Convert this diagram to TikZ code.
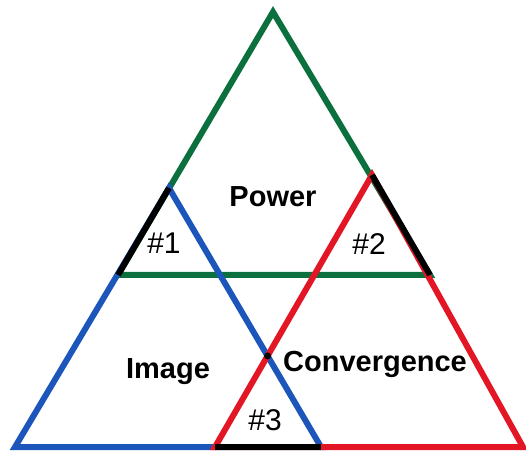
\documentclass[tikz,border=0pt]{standalone}
\usepackage{fontspec}
\setmainfont{Liberation Sans}
\usepackage{xcolor}
\definecolor{trigreen}{RGB}{12,112,62}
\definecolor{triblue}{RGB}{28,86,186}
\definecolor{trired}{RGB}{226,22,36}

\begin{document}
\begin{tikzpicture}[x=1pt, y=1pt,
  side/.style={line width=6pt, line join=miter},
  lbl/.style={font=\fontsize{29}{31}\selectfont\bfseries},
  num/.style={font=\fontsize{30}{32}\selectfont}]
  \useasboundingbox (0,0) rectangle (526,452);
  % Corners
  \coordinate (top) at (273,440);
  \coordinate (gl) at (118,177);
  \coordinate (gr) at (430,177);
  \coordinate (btop) at (169,264);
  \coordinate (bl) at (15,5);
  \coordinate (br) at (321,5);
  \coordinate (rtop) at (372,277);
  \coordinate (rl) at (215,5);
  \coordinate (rr) at (523,5);
  % Triangles
  \draw[side, trigreen] (top) -- (gr) -- (gl) -- cycle;
  \draw[side, triblue] (btop) -- (br) -- (bl) -- cycle;
  \draw[side, trired] (rtop) -- (rr) -- (rl) -- cycle;
  % Shared edges
  \draw[side, black] (btop) -- (gl);
  \draw[side, black] (rtop) -- (gr);
  \draw[side, black] (rl) -- (br);
  \fill[black] (intersection of btop--br and rtop--rl) circle (3.5pt);
  % Labels
  \node[lbl] (power) at (273,255) {Power};
  \node[lbl] (image) at (168,80) {Image};
  \node[lbl] (conv) at (375,88) {Convergence};
  \node[num] (n1) at (164,209) {\#1};
  \node[num] (n2) at (369,208) {\#2};
  \node[num] (n3) at (265,32) {\#3};
\end{tikzpicture}
\end{document}
